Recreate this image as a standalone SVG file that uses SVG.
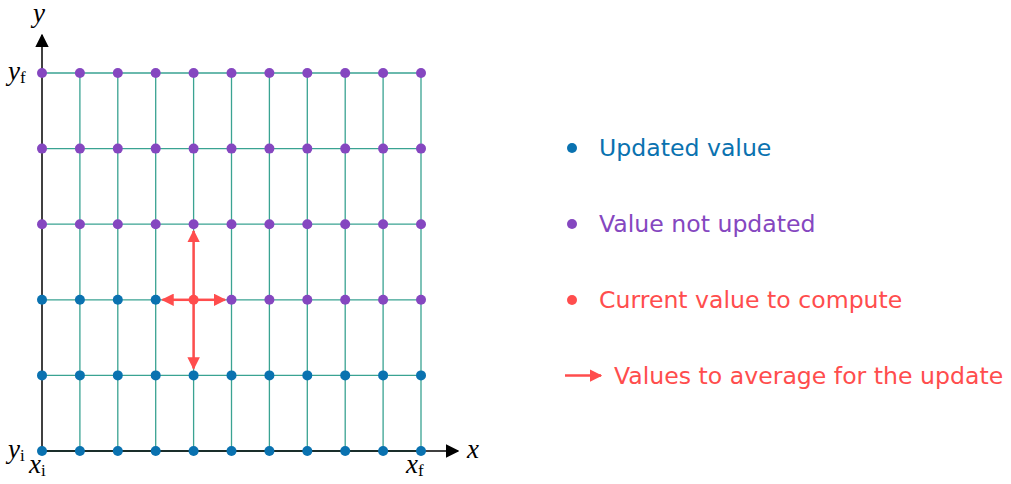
<svg xmlns="http://www.w3.org/2000/svg" width="1011" height="484" viewBox="0 0 1011 484">
<style>
.grid{stroke:#3aa392;stroke-width:1.3;fill:none}
.axis{stroke:#000;stroke-width:1.5;fill:none}
.b{fill:#0a72b0}
.p{fill:#8547c0}
.r{fill:#ff4d4d}
.arr{stroke:#ff4d4d;stroke-width:2.5;fill:none}
.math{font-family:"Liberation Serif","DejaVu Serif",serif;font-style:italic;font-size:27px;fill:#000}
.sub{font-family:"Liberation Serif",serif;font-style:normal;font-size:17px}
.leg{font-family:"DejaVu Sans","Liberation Sans",sans-serif;font-size:23.6px}
</style>
<defs>
<marker id="ah" viewBox="0 0 10 10" refX="9" refY="5" markerWidth="5" markerHeight="5" markerUnits="strokeWidth" orient="auto">
<path d="M0,0 L10,5 L0,10 z" fill="#ff4d4d"/>
</marker>
<marker id="ak" viewBox="0 0 10 10" refX="9" refY="5" markerWidth="9" markerHeight="9" markerUnits="strokeWidth" orient="auto">
<path d="M0,0 L10,5 L0,10 z" fill="#000"/>
</marker>
</defs>
<g id="grid">
<path class="grid" d="M42,73H421M42,148.6H421M42,224.2H421M42,299.8H421M42,375.4H421M42,451H421"/>
<path class="grid" d="M79.9,73V451M117.8,73V451M155.7,73V451M193.6,73V451M231.5,73V451M269.4,73V451M307.3,73V451M345.2,73V451M383.1,73V451M421,73V451"/>
</g>
<g id="axes">
<line class="axis" x1="42" y1="451" x2="458" y2="451" marker-end="url(#ak)"/>
<line class="axis" x1="42" y1="451" x2="42" y2="35" marker-end="url(#ak)"/>
<text class="math" x="33" y="22" font-size="24">y</text>
<text class="math" x="467" y="458">x</text>
<text class="math" x="8" y="80">y<tspan class="sub" dy="3">f</tspan></text>
<text class="math" x="8" y="458">y<tspan class="sub" dy="3">i</tspan></text>
<text class="math" x="29" y="473">x<tspan class="sub" dy="3">i</tspan></text>
<text class="math" x="406" y="473">x<tspan class="sub" dy="3">f</tspan></text>
</g>
<g id="nodes">
<g class="b">
<circle cx="42" cy="451" r="5"/><circle cx="79.9" cy="451" r="5"/><circle cx="117.8" cy="451" r="5"/><circle cx="155.7" cy="451" r="5"/><circle cx="193.6" cy="451" r="5"/><circle cx="231.5" cy="451" r="5"/><circle cx="269.4" cy="451" r="5"/><circle cx="307.3" cy="451" r="5"/><circle cx="345.2" cy="451" r="5"/><circle cx="383.1" cy="451" r="5"/><circle cx="421" cy="451" r="5"/>
<circle cx="42" cy="375.4" r="5"/><circle cx="79.9" cy="375.4" r="5"/><circle cx="117.8" cy="375.4" r="5"/><circle cx="155.7" cy="375.4" r="5"/><circle cx="193.6" cy="375.4" r="5"/><circle cx="231.5" cy="375.4" r="5"/><circle cx="269.4" cy="375.4" r="5"/><circle cx="307.3" cy="375.4" r="5"/><circle cx="345.2" cy="375.4" r="5"/><circle cx="383.1" cy="375.4" r="5"/><circle cx="421" cy="375.4" r="5"/>
<circle cx="42" cy="299.8" r="5"/><circle cx="79.9" cy="299.8" r="5"/><circle cx="117.8" cy="299.8" r="5"/><circle cx="155.7" cy="299.8" r="5"/>
</g>
<g class="p">
<circle cx="231.5" cy="299.8" r="5"/><circle cx="269.4" cy="299.8" r="5"/><circle cx="307.3" cy="299.8" r="5"/><circle cx="345.2" cy="299.8" r="5"/><circle cx="383.1" cy="299.8" r="5"/><circle cx="421" cy="299.8" r="5"/>
<circle cx="42" cy="224.2" r="5"/><circle cx="79.9" cy="224.2" r="5"/><circle cx="117.8" cy="224.2" r="5"/><circle cx="155.7" cy="224.2" r="5"/><circle cx="193.6" cy="224.2" r="5"/><circle cx="231.5" cy="224.2" r="5"/><circle cx="269.4" cy="224.2" r="5"/><circle cx="307.3" cy="224.2" r="5"/><circle cx="345.2" cy="224.2" r="5"/><circle cx="383.1" cy="224.2" r="5"/><circle cx="421" cy="224.2" r="5"/>
<circle cx="42" cy="148.6" r="5"/><circle cx="79.9" cy="148.6" r="5"/><circle cx="117.8" cy="148.6" r="5"/><circle cx="155.7" cy="148.6" r="5"/><circle cx="193.6" cy="148.6" r="5"/><circle cx="231.5" cy="148.6" r="5"/><circle cx="269.4" cy="148.6" r="5"/><circle cx="307.3" cy="148.6" r="5"/><circle cx="345.2" cy="148.6" r="5"/><circle cx="383.1" cy="148.6" r="5"/><circle cx="421" cy="148.6" r="5"/>
<circle cx="42" cy="73" r="5"/><circle cx="79.9" cy="73" r="5"/><circle cx="117.8" cy="73" r="5"/><circle cx="155.7" cy="73" r="5"/><circle cx="193.6" cy="73" r="5"/><circle cx="231.5" cy="73" r="5"/><circle cx="269.4" cy="73" r="5"/><circle cx="307.3" cy="73" r="5"/><circle cx="345.2" cy="73" r="5"/><circle cx="383.1" cy="73" r="5"/><circle cx="421" cy="73" r="5"/>
</g>
<circle class="r" cx="193.6" cy="299.8" r="5"/>
</g>
<g id="connectors">
<line class="arr" x1="193.6" y1="299.8" x2="193.6" y2="231" marker-end="url(#ah)"/>
<line class="arr" x1="193.6" y1="299.8" x2="193.6" y2="368.5" marker-end="url(#ah)"/>
<line class="arr" x1="193.6" y1="299.8" x2="162.5" y2="299.8" marker-end="url(#ah)"/>
<line class="arr" x1="193.6" y1="299.8" x2="225" y2="299.8" marker-end="url(#ah)"/>
</g>
<g id="legend">
<circle class="b" cx="572" cy="148" r="5"/>
<text class="leg b" x="599" y="156">Updated value</text>
<circle class="p" cx="572" cy="224" r="5"/>
<text class="leg p" x="599" y="232">Value not updated</text>
<circle class="r" cx="572" cy="300" r="5"/>
<text class="leg r" x="599" y="308">Current value to compute</text>
<line class="arr" x1="565" y1="375.5" x2="601" y2="375.5" marker-end="url(#ah)"/>
<text class="leg r" x="614" y="384">Values to average for the update</text>
</g>
</svg>
